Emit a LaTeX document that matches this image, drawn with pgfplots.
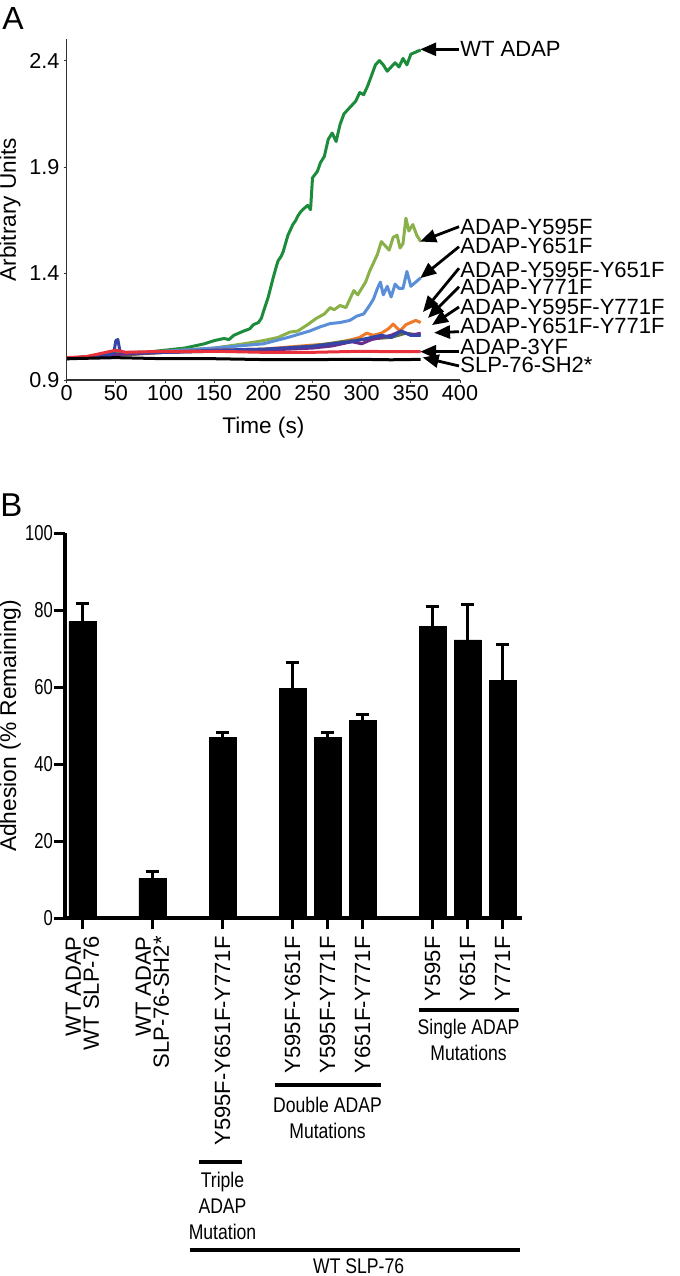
\documentclass[border=0pt]{standalone}
\usepackage{fontspec}
\setmainfont{Liberation Sans}
\usepackage{graphicx}
\usepackage{pgfplots}
\pgfplotsset{compat=1.18}
\usetikzlibrary{arrows.meta}
\definecolor{dkgreen}{HTML}{1C8C3C}
\definecolor{ltgreen}{HTML}{8AB04A}
\definecolor{cblue}{HTML}{5B8ED8}
\definecolor{orng}{HTML}{F07A28}
\definecolor{purp}{HTML}{6B2D8C}
\definecolor{dkblue}{HTML}{3544A8}
\definecolor{olivg}{HTML}{5E7048}
\definecolor{rd}{HTML}{E8313A}
\begin{document}
\begin{tikzpicture}
\path[use as bounding box] (0,0) rectangle (340pt,-638pt);
\node[anchor=north west, inner sep=0, font=\fontsize{16}{16}\selectfont] at (1pt,-3.5pt) {A};
\node[anchor=north west, inner sep=0, font=\fontsize{16.5}{16}\selectfont] at (0pt,-246.5pt) {B};
% ---------------- Panel A ----------------
\begin{axis}[at={(33.35pt,-190pt)}, anchor=south west, scale only axis,
  width=196.65pt, height=170.35pt,
  xmin=0, xmax=400, ymin=0.9, ymax=2.5,
  axis x line=bottom, axis y line=left,
  axis line style={-, line width=0.6pt, black!80},
  tick align=outside, major tick length=1.5pt,
  tick style={line width=0.5pt, black!80},
  xtick={0,50,...,400}, ytick={0.9,1.4,1.9,2.4},
  /pgf/number format/assume math mode=true,
  yticklabel style={/pgf/number format/fixed, /pgf/number format/precision=1, /pgf/number format/fixed zerofill, inner xsep=2pt},
  xticklabel style={inner ysep=1pt},
  tick label style={font=\fontsize{10.8}{12}\selectfont},
  label style={font=\fontsize{11.3}{12}\selectfont},
  xlabel={Time (s)}, ylabel={Arbitrary Units},
  xlabel style={at={(axis description cs:0.5,-0.141)}, anchor=center},
  ylabel style={at={(axis description cs:-0.144,0.5)}, anchor=center},
  clip=false, line join=round]
\addplot[dkgreen, line width=1.5pt] coordinates {
(0,1.00)(10,1.005)(20,1.01)(30,1.015)(40,1.02)(50,1.03)(60,1.025)(70,1.03)(80,1.03)(90,1.035)
(100,1.04)(110,1.045)(120,1.05)(130,1.06)(140,1.07)(150,1.085)(160,1.095)(165,1.09)(170,1.11)(175,1.12)(180,1.13)
(186,1.14)(190,1.16)(195,1.17)(198,1.19)(200,1.22)(205,1.29)(210,1.38)(213,1.43)(215,1.46)(218,1.48)(220,1.50)(225,1.58)
(230,1.63)(233,1.65)(235,1.67)(238,1.69)(240,1.70)(245,1.72)(248,1.70)(250,1.85)(255,1.88)(258,1.92)(262,1.95)
(266,2.03)(270,2.06)(274,2.02)(278,2.10)(282,2.15)(286,2.17)(290,2.19)(294,2.21)(298,2.25)
(302,2.24)(306,2.28)(310,2.33)(314,2.38)(318,2.40)(322,2.38)(326,2.35)(330,2.37)(334,2.39)
(338,2.37)(342,2.41)(346,2.38)(350,2.43)(355,2.44)(360,2.45)};
\addplot[ltgreen, line width=1.5pt] coordinates {
(0,1.00)(50,1.02)(100,1.035)(150,1.05)(180,1.07)(200,1.085)(215,1.10)(227,1.125)(235,1.13)
(245,1.16)(254,1.19)(262,1.21)(268,1.24)(272,1.23)(278,1.25)(284,1.24)(288,1.28)(292,1.32)
(296,1.30)(300,1.33)(304,1.36)(308,1.41)(312,1.45)(316,1.49)(320,1.55)(324,1.53)(328,1.51)
(332,1.57)(336,1.58)(339,1.52)(342,1.54)(345,1.66)(348,1.60)(352,1.63)(356,1.58)(360,1.55)};
\addplot[cblue, line width=1.5pt] coordinates {
(0,1.00)(50,1.02)(100,1.035)(150,1.05)(200,1.07)(225,1.10)(247,1.13)(258,1.15)(268,1.165)
(278,1.17)(288,1.18)(295,1.20)(302,1.21)(308,1.25)(312,1.28)(316,1.33)(319,1.36)(322,1.30)
(326,1.34)(330,1.29)(334,1.35)(338,1.33)(342,1.33)(346,1.41)(350,1.34)(355,1.36)(360,1.38)};
\addplot[orng, line width=1.5pt] coordinates {
(0,1.00)(50,1.02)(100,1.03)(150,1.04)(200,1.045)(250,1.064)(270,1.07)(290,1.09)(298,1.10)
(305,1.12)(312,1.11)(320,1.12)(327,1.14)(332,1.163)(339,1.13)(345,1.16)(350,1.17)(355,1.18)(360,1.17)};
\addplot[olivg, line width=1.5pt] coordinates {
(0,1.00)(100,1.03)(200,1.04)(250,1.06)(280,1.08)(300,1.09)(330,1.10)(345,1.12)(360,1.11)};
\addplot[purp, line width=1.5pt] coordinates {
(0,1.00)(50,1.02)(100,1.03)(150,1.035)(200,1.04)(250,1.05)(270,1.06)(290,1.08)(300,1.07)
(310,1.09)(320,1.10)(330,1.11)(340,1.13)(350,1.11)(360,1.12)};
\addplot[dkblue, line width=1.5pt] coordinates {
(0,1.00)(45,1.02)(48,1.03)(50,1.085)(52,1.09)(54,1.04)(56,1.03)(100,1.03)(150,1.04)(200,1.045)
(250,1.058)(270,1.07)(290,1.08)(300,1.09)(310,1.10)(320,1.11)(330,1.10)(340,1.13)(350,1.11)(360,1.11)};
\addplot[rd, line width=1.5pt] coordinates {
(0,1.005)(20,1.01)(40,1.03)(50,1.04)(60,1.03)(100,1.035)(150,1.035)(200,1.03)(250,1.03)
(300,1.035)(330,1.033)(360,1.033)};
\addplot[black, line width=1.5pt] coordinates {
(0,1.00)(50,1.005)(100,1.0)(150,1.0)(200,0.996)(250,0.996)(300,0.997)(330,0.995)(360,0.997)};
% labels and arrows
\tikzset{lab/.style={anchor=west, inner sep=0pt, font=\fontsize{11}{12}\selectfont},
  arr/.style={-{Triangle[length=8pt,width=6.5pt]}, line width=1.4pt}}
\draw[arr] (axis cs:399,2.453) -- (axis cs:359.5,2.453);
\node[lab] at (axis cs:400,2.457) {WT ADAP};
\draw[arr] (axis cs:399,1.62) -- (axis cs:359.5,1.55);
\node[lab] at (axis cs:400,1.62) {ADAP-Y595F};
\draw[arr] (axis cs:399,1.526) -- (axis cs:359.5,1.378);
\node[lab] at (axis cs:400,1.529) {ADAP-Y651F};
\draw[arr] (axis cs:399,1.425) -- (axis cs:362.3,1.219);
\node[lab] at (axis cs:400,1.417) {ADAP-Y595F-Y651F};
\draw[arr] (axis cs:399,1.338) -- (axis cs:367.4,1.191);
\node[lab] at (axis cs:400,1.338) {ADAP-Y771F};
\draw[arr] (axis cs:399,1.243) -- (axis cs:371.5,1.158);
\node[lab] at (axis cs:400,1.244) {ADAP-Y595F-Y771F};
\draw[arr] (axis cs:399,1.127) -- (axis cs:373.6,1.122);
\node[lab] at (axis cs:400,1.154) {ADAP-Y651F-Y771F};
\draw[arr] (axis cs:399,1.033) -- (axis cs:359.5,1.033);
\node[lab] at (axis cs:400,1.056) {ADAP-3YF};
\draw[arr] (axis cs:399,0.966) -- (axis cs:362,1.006);
\node[lab] at (axis cs:400,0.970) {SLP-76-SH2*};
\end{axis}
% ---------------- Panel B ----------------
\begin{axis}[at={(32.5pt,-459.15pt)}, anchor=south west, scale only axis,
  width=228.5pt, height=192.5pt,
  xmin=-0.5, xmax=12.557, ymin=0, ymax=100,
  axis x line=bottom, axis y line=left,
  axis line style={-, line width=2pt, black},
  tick align=outside, major tick length=5.5pt,
  tick style={line width=1.6pt, black},
  ytick={0,20,...,100},
  xtick={0,2,4,6,7,8,10,11,12},
  xticklabels={{WT ADAP\\WT SLP-76},{WT ADAP\\SLP-76-SH2*},Y595F-Y651F-Y771F,Y595F-Y651F,Y595F-Y771F,Y651F-Y771F,Y595F,Y651F,Y771F},
  xticklabel style={rotate=90, anchor=east, align=right, font=\fontsize{11}{9}\selectfont},
  /pgf/number format/assume math mode=true,
  yticklabel style={font=\fontsize{10.8}{12}\selectfont, xscale=0.77, inner xsep=0.5pt},
  ylabel={Adhesion (\% Remaining)},
  ylabel style={at={(axis description cs:-0.12,0.5)}, anchor=center, font=\fontsize{11.4}{12}\selectfont},
  clip=false]
\addplot[ybar, bar width=13.5pt, fill=black, draw=black,
  error bars/.cd, y dir=plus, y explicit,
  error bar style={line width=1.5pt, black},
  error mark=-,
  error mark options={rotate=90, line width=1.5pt, mark size=3.3pt, black}]
coordinates {
(0,77.0) +- (0,4.8)
(2,10.4) +- (0,1.7)
(4,46.9) +- (0,1.3)
(6,59.6) +- (0,6.8)
(7,46.9) +- (0,1.4)
(8,51.5) +- (0,1.4)
(10,75.8) +- (0,5.2)
(11,72.3) +- (0,9.1)
(12,61.9) +- (0,9.1)};
\tikzset{grp/.style={anchor=north, inner sep=0pt, align=center, xscale=0.83, font=\fontsize{10.6}{13}\selectfont}}
\draw[line width=2pt] (axis cs:9.6,-23.8) -- (axis cs:12.46,-23.8);
\node[grp] at (axis cs:11.03,-26.0) {Single ADAP\\Mutations};
\draw[line width=2pt] (axis cs:5.49,-43.3) -- (axis cs:8.54,-43.3);
\node[grp] at (axis cs:7.0,-46.4) {Double ADAP\\Mutations};
\draw[line width=2pt] (axis cs:3.34,-63.3) -- (axis cs:4.57,-63.3);
\node[grp] at (axis cs:4.0,-65.9) {Triple\\ADAP\\Mutation};
\draw[line width=2pt] (axis cs:3.06,-86.1) -- (axis cs:12.51,-86.1);
\node[grp] at (axis cs:7.89,-88.4) {WT SLP-76};
\end{axis}
\end{tikzpicture}
\end{document}
